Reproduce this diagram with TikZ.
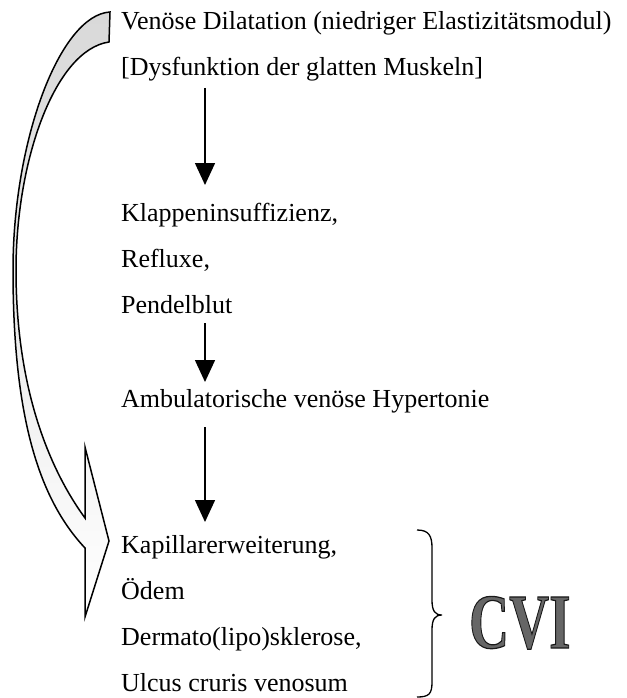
\documentclass[tikz,border=0pt]{standalone}
\usepackage{fontspec}
\setmainfont{Liberation Serif}
\usetikzlibrary{arrows.meta}
\newcommand{\outlinedtext}[1]{\special{pdf:literal direct 2 Tr 1.2 w 0.1 0.1 0.1 RG}#1\special{pdf:literal direct 0 Tr}}
\begin{document}
\begin{tikzpicture}[x=1pt,y=-1pt,
  txt/.style={anchor=base west, inner sep=0pt, font=\fontsize{26}{30}\selectfont},
  flowarrow/.style={line width=1.5pt, -{Triangle[width=20pt,length=22pt]}},
  bigarrow/.style={draw=black, line width=1.5pt, line join=miter, top color=gray!30, middle color=white, bottom color=white},
  bracestyle/.style={draw=black, line width=1.3pt},
  cvistyle/.style={anchor=base west, inner sep=0pt, font=\bfseries\fontsize{78}{80}\selectfont, xscale=0.71}]
\useasboundingbox (0,0) rectangle (626,698);
% big curved arrow
\path[bigarrow] (110,12) .. controls (60,15) and (13,140) .. (13,270)
  .. controls (13,420) and (40,500) .. (85,548) -- (85,617) -- (109,541) -- (85,447) -- (85,518)
  .. controls (50,470) and (16,390) .. (16,270)
  .. controls (16,160) and (55,50) .. (109,42) -- cycle;
% texts
\node[txt] (t1) at (121,30) {Venöse Dilatation (niedriger Elastizitätsmodul)};
\node[txt] (t2) at (121,76) {[Dysfunktion der glatten Muskeln]};
\node[txt] (t3) at (121,221) {Klappeninsuffizienz,};
\node[txt] (t4) at (121,267) {Refluxe,};
\node[txt] (t5) at (121,313) {Pendelblut};
\node[txt] (t6) at (121,407) {Ambulatorische venöse Hypertonie};
\node[txt] (t7) at (121,553) {Kapillarerweiterung,};
\node[txt] (t8) at (121,599) {Ödem};
\node[txt] (t9) at (121,645) {Dermato(lipo)sklerose,};
\node[txt] (t10) at (121,691) {Ulcus cruris venosum};
% flow arrows
\coordinate (a1s) at (205,88);  \coordinate (a1e) at (205,185);
\coordinate (a2s) at (205,323); \coordinate (a2e) at (205,382);
\coordinate (a3s) at (205,427); \coordinate (a3e) at (205,522);
\draw[flowarrow] (a1s) -- (a1e);
\draw[flowarrow] (a2s) -- (a2e);
\draw[flowarrow] (a3s) -- (a3e);
% brace
\path[bracestyle] (417,530) .. controls (429,530) and (432,536) .. (432,548) -- (432,600)
  .. controls (432,611) and (435,615) .. (442,615)
  .. controls (435,615) and (432,619) .. (432,630) -- (432,682)
  .. controls (432,694) and (429,697) .. (417,697);
% CVI
\node[cvistyle, text=black!60] (cvi) at (469,648) {\outlinedtext{CVI}};
\end{tikzpicture}
\end{document}
